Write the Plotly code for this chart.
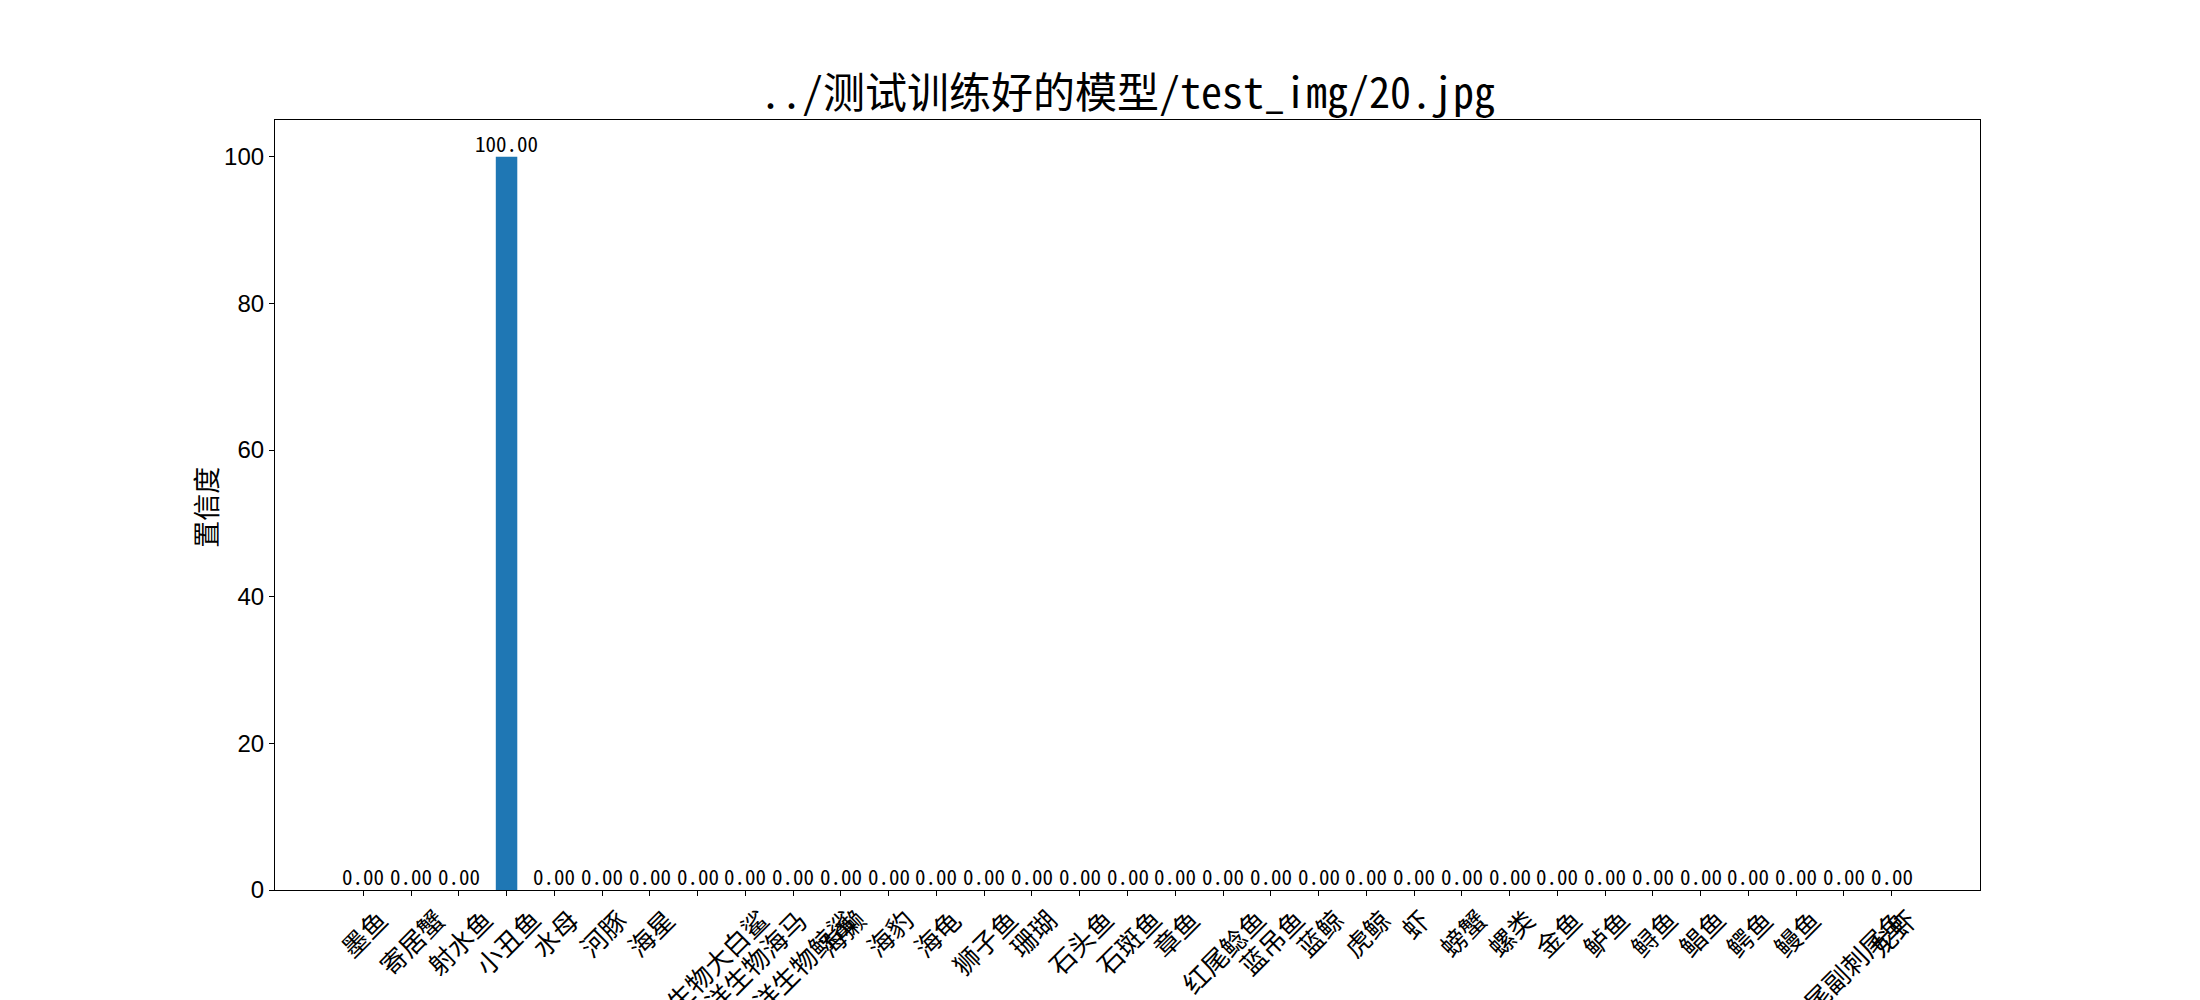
import plotly.graph_objects as go

title_text = "../测试训练好的模型/test_img/20.jpg"
y_label = "置信度"
categories = [
    "墨鱼", "寄居蟹", "射水鱼", "小丑鱼", "水母", "河豚", "海星",
    "海洋生物大白鲨", "海洋生物海马", "海洋生物鲸鲨", "海獭", "海豹", "海龟",
    "狮子鱼", "珊瑚", "石头鱼", "石斑鱼", "章鱼", "红尾鲶鱼", "蓝吊鱼", "蓝鲸",
    "虎鲸", "虾", "螃蟹", "螺类", "金鱼", "鲈鱼", "鲟鱼", "鲳鱼", "鳄鱼", "鳗鱼",
    "黄尾副刺尾鱼", "龙虾",
]
confidence = [0.0, 0.0, 0.0, 100.0] + [0.0] * 29
y_ticks = [0, 20, 40, 60, 80, 100]

CJK = "Noto Sans CJK SC"
MONO = "Noto Sans Mono CJK SC, Noto Sans CJK SC, DejaVu Sans Mono"
W, H = 2200, 1000
L, R, T, B = 275, 220, 120, 110
n = len(categories)
bw = 0.45
span = (n - 1) + bw
x_range = [-bw / 2 - 0.05 * span, (n - 1) + bw / 2 + 0.05 * span]
y_range = [0, max(confidence) * 1.05]
xs = list(range(n))

fig = go.Figure()
fig.add_trace(go.Bar(x=xs, y=confidence, width=bw, marker=dict(color="#1f77b4", line=dict(width=0)),
                     hoverinfo="skip"))

annotations = []
# value labels
for i, v in zip(xs, confidence):
    annotations.append(dict(x=i, y=v, xref="x", yref="y", text=f"{v:.2f}", showarrow=False,
                            xanchor="center", yanchor="bottom", yshift=-3,
                            font=dict(family=MONO, size=21, color="black")))
# rotated category labels
for i, c in zip(xs, categories):
    annotations.append(dict(x=i, y=0, xref="x", yref="paper", text=c, showarrow=False,
                            xanchor="center", yanchor="top", textangle=-45, yshift=-8,
                            font=dict(family=CJK, size=26, color="black")))
# y label
annotations.append(dict(x=(205.5 - L) / (W - L - R), y=0.497, xref="paper", yref="paper", text=y_label,
                        showarrow=False, xanchor="center", yanchor="middle", textangle=-90,
                        font=dict(family=CJK, size=27, color="black")))
# title
annotations.append(dict(x=0.5, y=1, xref="paper", yref="paper", text=title_text, showarrow=False,
                        xanchor="center", yanchor="bottom", yshift=-2,
                        font=dict(family=MONO, size=42, color="black")))

fig.update_layout(
    width=W, height=H, margin=dict(l=L, r=R, t=T, b=B, pad=0),
    paper_bgcolor="white", plot_bgcolor="white", showlegend=False,
    annotations=annotations,
    xaxis=dict(range=x_range, tickvals=xs, ticktext=[""] * n, showticklabels=False,
               ticks="outside", ticklen=5, tickwidth=1.1, tickcolor="black",
               showline=True, linecolor="black", linewidth=1.1, mirror=True,
               showgrid=False, zeroline=False),
    yaxis=dict(range=y_range, tickvals=y_ticks, ticktext=[str(t) for t in y_ticks],
               ticks="outside", ticklen=5, tickwidth=1.1, tickcolor="black",
               tickfont=dict(family="Liberation Sans, Arial", size=24, color="black"),
               showline=True, linecolor="black", linewidth=1.1, mirror=True,
               showgrid=False, zeroline=False),
)

fig.write_html("out.html")
